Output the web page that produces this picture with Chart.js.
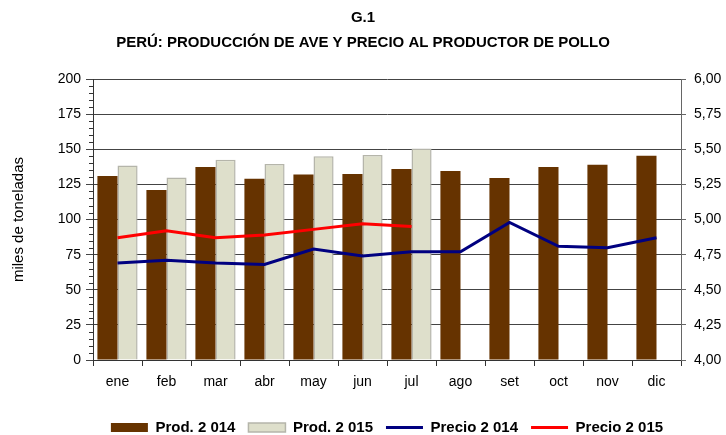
<!DOCTYPE html>
<html lang="es">
<head>
    <meta charset="UTF-8">
    <title>G.1 Perú: producción de ave y precio al productor de pollo</title>
    <style>
        body {
            margin: 0;
            background-color: #fff;
        }
        #chart-box {
            width: 726px;
            height: 435px;
        }
    </style>
</head>
<body>
    <div id="chart-box">
        <canvas id="chart" width="726" height="435"></canvas>
    </div>

    <script src="https://cdn.jsdelivr.net/npm/chart.js"></script>
    <script>
        const meses = ["ene", "feb", "mar", "abr", "may", "jun", "jul", "ago", "set", "oct", "nov", "dic"];
        const prod2014 = [131, 121, 137.5, 129, 132, 132.5, 136, 134.5, 129.5, 137.5, 139, 145.5];
        const prod2015 = [138.5, 130, 142.5, 139.5, 145, 146, 150.5, null, null, null, null, null];
        const precio2014 = [4.69, 4.71, 4.69, 4.68, 4.79, 4.74, 4.77, 4.77, 4.98, 4.81, 4.80, 4.87];
        const precio2015 = [4.87, 4.92, 4.87, 4.89, 4.93, 4.97, 4.95, null, null, null, null, null];

        const font = "'Liberation Sans', Arial, sans-serif";

        // small outer ticks every 5 units on the left axis
        const minorTicks = {
            id: 'minorTicks',
            afterDraw(chart) {
                const y = chart.scales.y;
                const ctx = chart.ctx;
                ctx.save();
                ctx.strokeStyle = '#333';
                ctx.lineWidth = 1;
                for (let v = 0; v <= 200; v += 5) {
                    if (v % 25 === 0) continue;
                    const py = Math.round(y.getPixelForValue(v)) + 0.5;
                    ctx.beginPath();
                    ctx.moveTo(y.right - 4, py);
                    ctx.lineTo(y.right, py);
                    ctx.stroke();
                }
                ctx.restore();
            }
        };

        // keep the legend low and short so the plot keeps its height
        const legendHeight = {
            id: 'legendHeight',
            afterInit(chart) {
                const lg = chart.legend;
                const fit = lg.fit;
                lg.fit = function () {
                    fit.call(this);
                    this.height = 28;
                };
            }
        };

        new Chart(document.getElementById('chart'), {
            type: 'bar',
            data: {
                labels: meses,
                datasets: [
                    {
                        label: 'Prod. 2 014',
                        data: prod2014,
                        backgroundColor: '#663300',
                        borderWidth: 0,
                        yAxisID: 'y',
                        order: 2,
                        pointStyle: 'rect'
                    },
                    {
                        label: 'Prod. 2 015',
                        data: prod2015,
                        backgroundColor: '#DEDFCB',
                        borderColor: '#B5B5AA',
                        borderWidth: 1.5,
                        yAxisID: 'y',
                        order: 2,
                        pointStyle: 'rect'
                    },
                    {
                        type: 'line',
                        label: 'Precio 2 014',
                        data: precio2014,
                        borderColor: '#000080',
                        backgroundColor: '#000080',
                        borderWidth: 3,
                        pointRadius: 0,
                        tension: 0,
                        yAxisID: 'y1',
                        order: 1,
                        pointStyle: 'line'
                    },
                    {
                        type: 'line',
                        label: 'Precio 2 015',
                        data: precio2015,
                        borderColor: '#FF0000',
                        backgroundColor: '#FF0000',
                        borderWidth: 3,
                        pointRadius: 0,
                        tension: 0,
                        yAxisID: 'y1',
                        order: 0,
                        pointStyle: 'line'
                    }
                ]
            },
            options: {
                responsive: false,
                animation: false,
                layout: { padding: 0 },
                datasets: {
                    bar: { categoryPercentage: 0.82, barPercentage: 1.0 }
                },
                plugins: {
                    title: {
                        display: true,
                        text: ['G.1', 'PERÚ: PRODUCCIÓN DE AVE Y PRECIO AL PRODUCTOR DE POLLO'],
                        color: '#000',
                        font: { family: font, size: 15, weight: 'bold', lineHeight: 1.67 },
                        padding: { top: 5, bottom: 24 }
                    },
                    legend: {
                        position: 'bottom',
                        fullSize: false,
                        labels: {
                            usePointStyle: true,
                            pointStyleWidth: 37,
                            boxHeight: 9,
                            padding: 13,
                            color: '#000',
                            font: { family: font, size: 15, weight: 'bold' },
                            sort: (a, b) => a.datasetIndex - b.datasetIndex
                        }
                    },
                    tooltip: { enabled: false }
                },
                scales: {
                    x: {
                        offset: true,
                        grid: {
                            offset: true,
                            drawOnChartArea: false,
                            tickLength: 6,
                            color: '#333'
                        },
                        border: { color: '#333' },
                        ticks: {
                            color: '#000',
                            font: { family: font, size: 14 },
                            padding: 8,
                            maxRotation: 0
                        },
                        afterFit(scale) { scale.height = 47; }
                    },
                    y: {
                        position: 'left',
                        min: 0,
                        max: 200,
                        ticks: {
                            stepSize: 25,
                            color: '#000',
                            font: { family: font, size: 14 },
                            padding: 5
                        },
                        grid: { color: '#444', tickLength: 7 },
                        border: { color: '#333' },
                        title: {
                            display: true,
                            text: 'miles de toneladas',
                            color: '#000',
                            font: { family: font, size: 15 },
                            padding: { top: 10, bottom: 0 }
                        },
                        afterFit(scale) { scale.width = 93; }
                    },
                    y1: {
                        position: 'right',
                        min: 4,
                        max: 6,
                        ticks: {
                            stepSize: 0.25,
                            color: '#000',
                            font: { family: font, size: 14 },
                            padding: 8,
                            callback: (v) => v.toFixed(2).replace('.', ',')
                        },
                        grid: { drawOnChartArea: false, tickLength: 5, color: '#666' },
                        border: { color: '#666' },
                        afterFit(scale) { scale.width = 45; }
                    }
                }
            },
            plugins: [minorTicks, legendHeight]
        });
    </script>
</body>
</html>
